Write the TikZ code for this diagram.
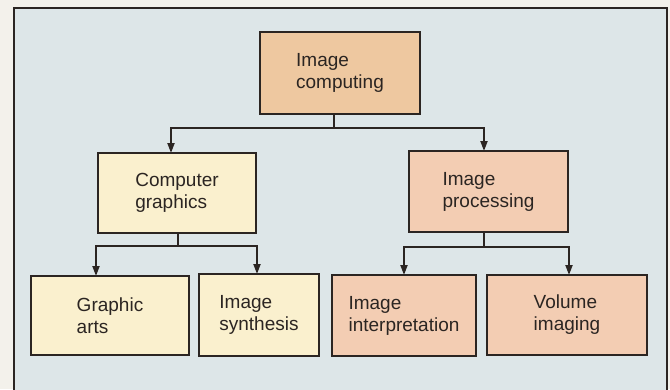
\documentclass[tikz,border=0pt]{standalone}
\usepackage{fontspec}
\setmainfont{Liberation Sans}
\usetikzlibrary{arrows.meta}

\definecolor{paper}{HTML}{F3F1EB}
\definecolor{panel}{HTML}{DDE6E8}
\definecolor{tanbox}{HTML}{EEC8A0}
\definecolor{yellowbox}{HTML}{FAF0CE}
\definecolor{pinkbox}{HTML}{F3CDB3}
\definecolor{ink}{HTML}{2B2522}

\tikzset{
  box/.style={draw=ink, line width=2pt, inner sep=0pt, align=left,
    text=ink, font=\fontsize{19}{22}\selectfont},
  tan/.style={box, fill=tanbox},
  yel/.style={box, fill=yellowbox},
  pink/.style={box, fill=pinkbox},
  link/.style={draw=ink, line width=2pt},
  arrowlink/.style={link, -{Triangle[length=10pt,width=7pt]}, shorten >=-1pt},
}

\begin{document}
\begin{tikzpicture}[x=1pt, y=-1pt]
  \useasboundingbox (0,0) rectangle (670,389);
  % page and framed panel
  \fill[paper] (0,0) rectangle (670,389);
  \fill[panel] (14,8) rectangle (667,395);
  \draw[draw=ink, line width=1.6pt] (14,395) -- (14,8) -- (667,8) -- (667,395);

  % boxes
  \node[tan,  minimum width=160pt, minimum height=82pt] (ic) at (340,73)    {Image\\computing};
  \node[yel,  minimum width=158pt, minimum height=80pt] (cg) at (177,193)   {Computer\\graphics};
  \node[pink, minimum width=159pt, minimum height=81pt] (ip) at (488.5,191.5) {Image\\processing};
  \node[yel,  minimum width=158pt, minimum height=79pt] (ga) at (110,315.5) {Graphic\\arts};
  \node[yel,  minimum width=120pt, minimum height=82pt] (is) at (259,315)   {Image\\synthesis};
  \node[pink, minimum width=144pt, minimum height=81pt] (ii) at (404,315.5) {Image\\interpretation};
  \node[pink, minimum width=160pt, minimum height=80pt] (vi) at (567,315)   {Volume\\imaging};

  % junction points of the connectors
  \coordinate (icj) at (334,128);
  \coordinate (cgj) at (178,246);
  \coordinate (ipj) at (484,247);

  \draw[link] (ic.south -| icj) -- (icj);
  \draw[arrowlink] (icj) -| ([xshift=-6pt]cg.north);
  \draw[arrowlink] (icj) -| ([xshift=-4.5pt]ip.north);

  \draw[link] (cg.south -| cgj) -- (cgj);
  \draw[arrowlink] (cgj) -| ([xshift=-14pt]ga.north);
  \draw[arrowlink] (cgj) -| ([xshift=-2pt]is.north);

  \draw[link] (ip.south -| ipj) -- (ipj);
  \draw[arrowlink] (ipj) -| (ii.north);
  \draw[arrowlink] (ipj) -| ([xshift=2pt]vi.north);
\end{tikzpicture}
\end{document}
